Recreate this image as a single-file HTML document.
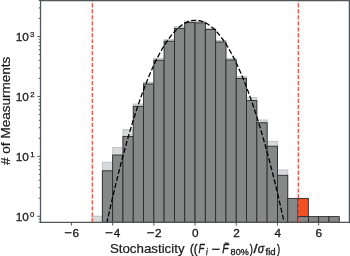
<!DOCTYPE html>
<html><head><meta charset="utf-8"><style>
html,body{margin:0;padding:0;background:#fff;}
body{width:350px;height:256px;overflow:hidden;}
svg{display:block;font-family:"Liberation Sans",sans-serif;}
</style></head><body>
<svg width="350" height="256" viewBox="0 0 350 256">
<rect width="350" height="256" fill="#fff"/>
<g fill="#d7dadb" stroke="#bcbfc0" stroke-width="0.9"><rect x="92.05" y="216.20" width="10.30" height="6.10"/><rect x="102.35" y="162.20" width="10.30" height="60.10"/><rect x="112.65" y="147.60" width="10.30" height="74.70"/><rect x="122.95" y="129.60" width="10.30" height="92.70"/><rect x="133.25" y="104.00" width="10.30" height="118.30"/><rect x="143.55" y="82.30" width="10.30" height="140.00"/><rect x="153.85" y="58.10" width="10.30" height="164.20"/><rect x="164.15" y="39.70" width="10.30" height="182.60"/><rect x="174.45" y="26.80" width="10.30" height="195.50"/><rect x="184.75" y="21.00" width="10.30" height="201.30"/><rect x="195.05" y="21.40" width="10.30" height="200.90"/><rect x="205.35" y="28.20" width="10.30" height="194.10"/><rect x="215.65" y="40.60" width="10.30" height="181.70"/><rect x="225.95" y="58.40" width="10.30" height="163.90"/><rect x="236.25" y="76.60" width="10.30" height="145.70"/><rect x="246.55" y="97.50" width="10.30" height="124.80"/><rect x="256.85" y="120.00" width="10.30" height="102.30"/><rect x="267.15" y="141.40" width="10.30" height="80.90"/><rect x="277.45" y="170.00" width="10.30" height="52.30"/></g>
<g fill="#868888" stroke="#2a2a2a" stroke-width="0.9"><rect x="102.35" y="170.80" width="10.30" height="51.50"/><rect x="112.65" y="155.00" width="10.30" height="67.30"/><rect x="122.95" y="136.40" width="10.30" height="85.90"/><rect x="133.25" y="106.30" width="10.30" height="116.00"/><rect x="143.55" y="84.00" width="10.30" height="138.30"/><rect x="153.85" y="60.20" width="10.30" height="162.10"/><rect x="164.15" y="41.20" width="10.30" height="181.10"/><rect x="174.45" y="28.40" width="10.30" height="193.90"/><rect x="184.75" y="22.60" width="10.30" height="199.70"/><rect x="195.05" y="22.90" width="10.30" height="199.40"/><rect x="205.35" y="29.50" width="10.30" height="192.80"/><rect x="215.65" y="42.00" width="10.30" height="180.30"/><rect x="225.95" y="60.00" width="10.30" height="162.30"/><rect x="236.25" y="78.40" width="10.30" height="143.90"/><rect x="246.55" y="100.60" width="10.30" height="121.70"/><rect x="256.85" y="122.70" width="10.30" height="99.60"/><rect x="267.15" y="146.20" width="10.30" height="76.10"/><rect x="277.45" y="175.30" width="10.30" height="47.00"/><rect x="287.75" y="198.40" width="10.30" height="23.90"/><rect x="298.05" y="216.60" width="10.30" height="5.70"/><rect x="308.35" y="216.60" width="10.30" height="5.70"/><rect x="318.65" y="216.60" width="10.30" height="5.70"/><rect x="328.95" y="216.60" width="10.30" height="5.70"/></g>
<g fill="#f3501e" stroke="#2a2a2a" stroke-width="0.9"><rect x="298.05" y="198.4" width="10.30" height="18.20"/></g>
<g fill="#868888" stroke="#2a2a2a" stroke-width="0.9"><rect x="298.05" y="216.6" width="10.30" height="5.70"/></g>
<path d="M107.00,222.21 L107.50,219.93 L108.00,217.67 L108.50,215.43 L109.00,213.19 L109.50,210.97 L110.00,208.76 L110.50,206.56 L111.00,204.38 L111.50,202.21 L112.00,200.05 L112.50,197.91 L113.00,195.77 L113.50,193.65 L114.00,191.55 L114.50,189.45 L115.00,187.37 L115.50,185.31 L116.00,183.25 L116.50,181.21 L117.00,179.18 L117.50,177.16 L118.00,175.16 L118.50,173.17 L119.00,171.19 L119.50,169.23 L120.00,167.28 L120.50,165.34 L121.00,163.41 L121.50,161.50 L122.00,159.60 L122.50,157.71 L123.00,155.84 L123.50,153.97 L124.00,152.12 L124.50,150.29 L125.00,148.47 L125.50,146.66 L126.00,144.86 L126.50,143.07 L127.00,141.30 L127.50,139.54 L128.00,137.80 L128.50,136.06 L129.00,134.34 L129.50,132.64 L130.00,130.94 L130.50,129.26 L131.00,127.59 L131.50,125.94 L132.00,124.29 L132.50,122.66 L133.00,121.05 L133.50,119.44 L134.00,117.85 L134.50,116.27 L135.00,114.71 L135.50,113.15 L136.00,111.61 L136.50,110.09 L137.00,108.57 L137.50,107.07 L138.00,105.58 L138.50,104.11 L139.00,102.65 L139.50,101.20 L140.00,99.76 L140.50,98.34 L141.00,96.92 L141.50,95.53 L142.00,94.14 L142.50,92.77 L143.00,91.41 L143.50,90.06 L144.00,88.73 L144.50,87.41 L145.00,86.10 L145.50,84.80 L146.00,83.52 L146.50,82.25 L147.00,81.00 L147.50,79.75 L148.00,78.52 L148.50,77.30 L149.00,76.10 L149.50,74.91 L150.00,73.73 L150.50,72.56 L151.00,71.41 L151.50,70.27 L152.00,69.14 L152.50,68.02 L153.00,66.92 L153.50,65.83 L154.00,64.75 L154.50,63.69 L155.00,62.64 L155.50,61.60 L156.00,60.58 L156.50,59.57 L157.00,58.57 L157.50,57.58 L158.00,56.61 L158.50,55.65 L159.00,54.70 L159.50,53.76 L160.00,52.84 L160.50,51.93 L161.00,51.04 L161.50,50.15 L162.00,49.28 L162.50,48.43 L163.00,47.58 L163.50,46.75 L164.00,45.93 L164.50,45.13 L165.00,44.33 L165.50,43.55 L166.00,42.78 L166.50,42.03 L167.00,41.29 L167.50,40.56 L168.00,39.84 L168.50,39.14 L169.00,38.45 L169.50,37.77 L170.00,37.11 L170.50,36.46 L171.00,35.82 L171.50,35.19 L172.00,34.58 L172.50,33.98 L173.00,33.39 L173.50,32.82 L174.00,32.26 L174.50,31.71 L175.00,31.17 L175.50,30.65 L176.00,30.14 L176.50,29.64 L177.00,29.16 L177.50,28.69 L178.00,28.23 L178.50,27.79 L179.00,27.35 L179.50,26.93 L180.00,26.53 L180.50,26.13 L181.00,25.75 L181.50,25.38 L182.00,25.03 L182.50,24.69 L183.00,24.36 L183.50,24.04 L184.00,23.74 L184.50,23.44 L185.00,23.17 L185.50,22.90 L186.00,22.65 L186.50,22.41 L187.00,22.18 L187.50,21.97 L188.00,21.77 L188.50,21.58 L189.00,21.40 L189.50,21.24 L190.00,21.09 L190.50,20.96 L191.00,20.83 L191.50,20.72 L192.00,20.62 L192.50,20.54 L193.00,20.47 L193.50,20.41 L194.00,20.36 L194.50,20.33 L195.00,20.31 L195.50,20.30 L196.00,20.31 L196.50,20.32 L197.00,20.35 L197.50,20.40 L198.00,20.45 L198.50,20.52 L199.00,20.61 L199.50,20.70 L200.00,20.81 L200.50,20.93 L201.00,21.06 L201.50,21.21 L202.00,21.37 L202.50,21.54 L203.00,21.73 L203.50,21.93 L204.00,22.14 L204.50,22.36 L205.00,22.60 L205.50,22.85 L206.00,23.11 L206.50,23.39 L207.00,23.68 L207.50,23.98 L208.00,24.29 L208.50,24.62 L209.00,24.96 L209.50,25.31 L210.00,25.68 L210.50,26.06 L211.00,26.45 L211.50,26.85 L212.00,27.27 L212.50,27.70 L213.00,28.14 L213.50,28.60 L214.00,29.07 L214.50,29.55 L215.00,30.04 L215.50,30.55 L216.00,31.07 L216.50,31.60 L217.00,32.15 L217.50,32.71 L218.00,33.28 L218.50,33.86 L219.00,34.46 L219.50,35.07 L220.00,35.69 L220.50,36.33 L221.00,36.98 L221.50,37.64 L222.00,38.31 L222.50,39.00 L223.00,39.70 L223.50,40.42 L224.00,41.14 L224.50,41.88 L225.00,42.63 L225.50,43.40 L226.00,44.18 L226.50,44.97 L227.00,45.77 L227.50,46.59 L228.00,47.41 L228.50,48.26 L229.00,49.11 L229.50,49.98 L230.00,50.86 L230.50,51.75 L231.00,52.66 L231.50,53.58 L232.00,54.51 L232.50,55.46 L233.00,56.41 L233.50,57.39 L234.00,58.37 L234.50,59.37 L235.00,60.37 L235.50,61.40 L236.00,62.43 L236.50,63.48 L237.00,64.54 L237.50,65.61 L238.00,66.70 L238.50,67.80 L239.00,68.91 L239.50,70.04 L240.00,71.18 L240.50,72.33 L241.00,73.49 L241.50,74.67 L242.00,75.86 L242.50,77.06 L243.00,78.28 L243.50,79.50 L244.00,80.75 L244.50,82.00 L245.00,83.27 L245.50,84.55 L246.00,85.84 L246.50,87.14 L247.00,88.46 L247.50,89.79 L248.00,91.14 L248.50,92.50 L249.00,93.87 L249.50,95.25 L250.00,96.64 L250.50,98.05 L251.00,99.47 L251.50,100.91 L252.00,102.36 L252.50,103.82 L253.00,105.29 L253.50,106.77 L254.00,108.27 L254.50,109.78 L255.00,111.31 L255.50,112.85 L256.00,114.40 L256.50,115.96 L257.00,117.53 L257.50,119.12 L258.00,120.73 L258.50,122.34 L259.00,123.97 L259.50,125.61 L260.00,127.26 L260.50,128.93 L261.00,130.61 L261.50,132.30 L262.00,134.00 L262.50,135.72 L263.00,137.45 L263.50,139.19 L264.00,140.95 L264.50,142.72 L265.00,144.50 L265.50,146.29 L266.00,148.10 L266.50,149.92 L267.00,151.76 L267.50,153.60 L268.00,155.46 L268.50,157.33 L269.00,159.22 L269.50,161.12 L270.00,163.03 L270.50,164.95 L271.00,166.89 L271.50,168.84 L272.00,170.80 L272.50,172.77 L273.00,174.76 L273.50,176.76 L274.00,178.78 L274.50,180.80 L275.00,182.84 L275.50,184.89 L276.00,186.96 L276.50,189.04 L277.00,191.13 L277.50,193.23 L278.00,195.35 L278.50,197.48 L279.00,199.62 L279.50,201.78 L280.00,203.94 L280.50,206.12 L281.00,208.32 L281.50,210.53 L282.00,212.75 L282.50,214.98 L283.00,217.22 L283.50,219.48 L284.00,221.75" fill="none" stroke="#000" stroke-width="1.3" stroke-dasharray="5.04 2.22" stroke-dashoffset="1.2"/>
<g stroke="#ee524a" stroke-width="1.3" stroke-dasharray="4.2 1.77">
<line x1="92.3" y1="222.45" x2="92.3" y2="0"/>
<line x1="298.3" y1="222.45" x2="298.3" y2="0"/>
</g>
<g stroke="#50575a" stroke-width="1.3" fill="none"><path d="M40.5,222.3 L40.5,0.5 L349.4,0.5 L349.4,222.3 Z"/></g>
<g stroke="#555" stroke-width="1.0"><line x1="37.30" y1="216.30" x2="40.5" y2="216.30"/><line x1="37.30" y1="156.37" x2="40.5" y2="156.37"/><line x1="37.30" y1="96.44" x2="40.5" y2="96.44"/><line x1="37.30" y1="36.51" x2="40.5" y2="36.51"/><line x1="71.45" y1="222.3" x2="71.45" y2="225.50"/><line x1="112.65" y1="222.3" x2="112.65" y2="225.50"/><line x1="153.85" y1="222.3" x2="153.85" y2="225.50"/><line x1="195.05" y1="222.3" x2="195.05" y2="225.50"/><line x1="236.25" y1="222.3" x2="236.25" y2="225.50"/><line x1="277.45" y1="222.3" x2="277.45" y2="225.50"/><line x1="318.65" y1="222.3" x2="318.65" y2="225.50"/></g>
<g stroke="#444" stroke-width="0.9"><line x1="38.70" y1="222.11" x2="40.5" y2="222.11"/><line x1="38.70" y1="219.04" x2="40.5" y2="219.04"/><line x1="38.70" y1="198.26" x2="40.5" y2="198.26"/><line x1="38.70" y1="187.71" x2="40.5" y2="187.71"/><line x1="38.70" y1="180.22" x2="40.5" y2="180.22"/><line x1="38.70" y1="174.41" x2="40.5" y2="174.41"/><line x1="38.70" y1="169.67" x2="40.5" y2="169.67"/><line x1="38.70" y1="165.65" x2="40.5" y2="165.65"/><line x1="38.70" y1="162.18" x2="40.5" y2="162.18"/><line x1="38.70" y1="159.11" x2="40.5" y2="159.11"/><line x1="38.70" y1="138.33" x2="40.5" y2="138.33"/><line x1="38.70" y1="127.78" x2="40.5" y2="127.78"/><line x1="38.70" y1="120.29" x2="40.5" y2="120.29"/><line x1="38.70" y1="114.48" x2="40.5" y2="114.48"/><line x1="38.70" y1="109.74" x2="40.5" y2="109.74"/><line x1="38.70" y1="105.72" x2="40.5" y2="105.72"/><line x1="38.70" y1="102.25" x2="40.5" y2="102.25"/><line x1="38.70" y1="99.18" x2="40.5" y2="99.18"/><line x1="38.70" y1="78.40" x2="40.5" y2="78.40"/><line x1="38.70" y1="67.85" x2="40.5" y2="67.85"/><line x1="38.70" y1="60.36" x2="40.5" y2="60.36"/><line x1="38.70" y1="54.55" x2="40.5" y2="54.55"/><line x1="38.70" y1="49.81" x2="40.5" y2="49.81"/><line x1="38.70" y1="45.79" x2="40.5" y2="45.79"/><line x1="38.70" y1="42.32" x2="40.5" y2="42.32"/><line x1="38.70" y1="39.25" x2="40.5" y2="39.25"/><line x1="38.70" y1="18.47" x2="40.5" y2="18.47"/><line x1="38.70" y1="7.92" x2="40.5" y2="7.92"/><line x1="38.70" y1="0.43" x2="40.5" y2="0.43"/></g>
<g fill="#1a1a1a" stroke="#1a1a1a" stroke-width="0.2" style="filter:grayscale(1)"><rect x="64.93" y="232.2" width="6.6" height="1.0" fill="#1a1a1a"/><text transform="translate(72.53,236.60) scale(1.0000,1)" font-size="11.8" stroke-width="0.32">6</text><rect x="105.88" y="232.2" width="6.6" height="1.0" fill="#1a1a1a"/><text transform="translate(113.80,236.60) scale(1.0000,1)" font-size="11.8" stroke-width="0.32">4</text><rect x="147.36" y="232.2" width="6.6" height="1.0" fill="#1a1a1a"/><text transform="translate(154.97,236.60) scale(1.0000,1)" font-size="11.8" stroke-width="0.32">2</text><text transform="translate(191.97,236.60) scale(1.0000,1)" font-size="11.8" stroke-width="0.32">0</text><text transform="translate(233.17,236.60) scale(1.0000,1)" font-size="11.8" stroke-width="0.32">2</text><text transform="translate(274.41,236.60) scale(1.0000,1)" font-size="11.8" stroke-width="0.32">4</text><text transform="translate(315.53,236.60) scale(1.0000,1)" font-size="11.8" stroke-width="0.32">6</text><text transform="translate(15.80,220.70) scale(1.0000,1)" font-size="11.8" stroke-width="0.32">10</text><text transform="translate(30.07,216.70) scale(1.0000,1)" font-size="7.8" stroke-width="0.25">0</text><text transform="translate(15.80,160.77) scale(1.0000,1)" font-size="11.8" stroke-width="0.32">10</text><text transform="translate(30.15,156.77) scale(1.0000,1)" font-size="7.8" stroke-width="0.25">1</text><text transform="translate(15.80,100.84) scale(1.0000,1)" font-size="11.8" stroke-width="0.32">10</text><text transform="translate(30.15,96.84) scale(1.0000,1)" font-size="7.8" stroke-width="0.25">2</text><text transform="translate(15.80,40.91) scale(1.0000,1)" font-size="11.8" stroke-width="0.32">10</text><text transform="translate(30.11,36.91) scale(1.0000,1)" font-size="7.8" stroke-width="0.25">3</text><text transform="translate(109.89,252.90) scale(1.1096,1)" font-size="12.0">Stochasticity</text><text transform="translate(190.11,252.90) scale(0.9337,1)" font-size="12.0" stroke-width="0.4">((</text><text transform="translate(198.50,252.90) scale(0.8107,1)" font-size="12.0" font-style="italic" stroke-width="0.4">F</text><text transform="translate(205.97,255.10) scale(0.9247,1)" font-size="8.5" font-style="italic" stroke-width="0.3">i</text><rect x="212.4" y="248.8" width="7.1" height="1.1" fill="#1a1a1a"/><text transform="translate(222.37,252.90) scale(0.8772,1)" font-size="12.0" font-style="italic" stroke-width="0.4">F</text><rect x="224.9" y="242.7" width="3.6" height="0.9" fill="#1a1a1a"/><text transform="translate(230.61,254.80) scale(1.0706,1)" font-size="8.5" stroke-width="0.3">80%</text><text transform="translate(249.74,252.90) scale(0.7862,1)" font-size="12.0" stroke-width="0.4">)</text><text transform="translate(253.60,252.90) scale(1.1990,1)" font-size="12.0" stroke-width="0.4">/</text><text transform="translate(257.84,252.90) scale(0.9013,1)" font-size="12.0" font-style="italic" stroke-width="0.4">σ</text><text transform="translate(265.47,254.80) scale(1.1308,1)" font-size="8.5" stroke-width="0.3">fid</text><text transform="translate(276.94,252.90) scale(0.7862,1)" font-size="12.0" stroke-width="0.4">)</text><g transform="translate(9.9,0) rotate(-90)"><text transform="translate(-164.95,0.00) scale(1.1292,1)" font-size="12.0"># of Measurments</text></g></g>
</svg>
</body></html>
